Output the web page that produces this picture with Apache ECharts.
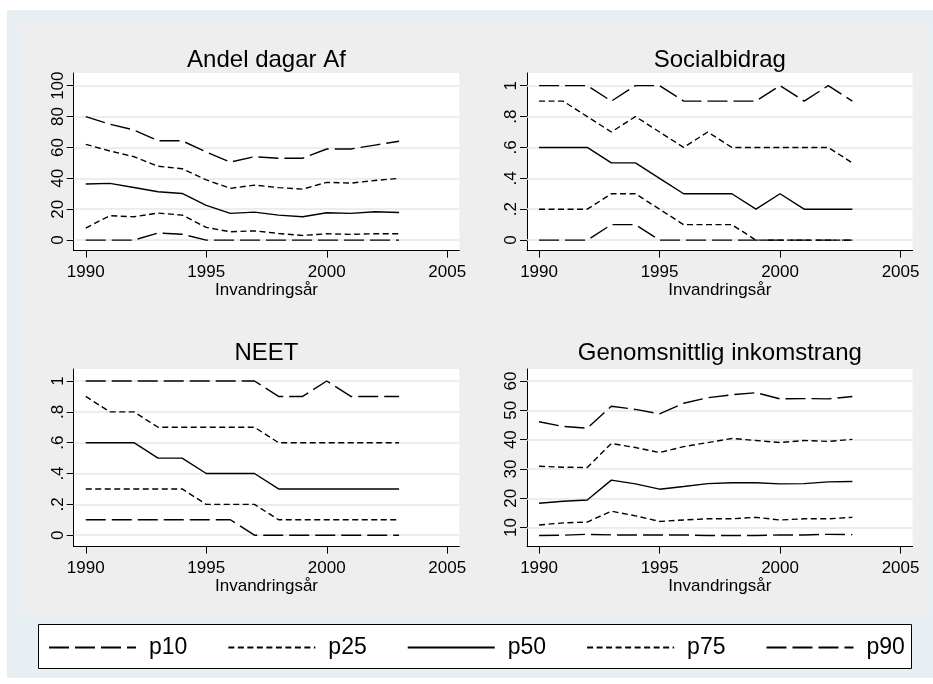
<!DOCTYPE html>
<html>
<head>
<meta charset="UTF-8"/>
<title></title>
<script src="https://cdn.jsdelivr.net/npm/echarts@6/dist/echarts.min.js" type="text/javascript"></script>
<style>
html, body { margin: 0; padding: 0; background: #fff; }
#main { width: 933px; height: 684px; }
</style>
</head>
<body>
<div id="main"></div>
<script type="text/javascript">
// years on the x axis
var years = [1990, 1991, 1992, 1993, 1994, 1995, 1996, 1997, 1998, 1999, 2000, 2001, 2002, 2003];
var xTicks = [1990, 1995, 2000, 2005];
var pNames = ['p10', 'p25', 'p50', 'p75', 'p90'];

// Andel dagar Af
var afP10 = [0, 0, 0, 4.6, 3.8, 0, 0, 0, 0, 0, 0, 0, 0, 0];
var afP25 = [7.8, 15.8, 15.1, 17.5, 16.2, 8.2, 5.4, 6, 4.3, 3, 4.1, 3.7, 4.1, 4.1];
var afP50 = [36.3, 36.7, 34.1, 31.3, 30.2, 22.5, 17.3, 18.1, 16.2, 15.1, 17.7, 17.3, 18.4, 17.9];
var afP75 = [62, 57.7, 54, 47.8, 46.2, 39, 33.5, 35.6, 34, 33, 37.4, 36.9, 38.6, 40];
var afP90 = [80, 75, 71.3, 64.3, 64.3, 57, 50.5, 54, 53, 53, 59, 59, 61.5, 64];
var afTicks = [0, 20, 40, 60, 80, 100];

// Socialbidrag
var sbP10 = [0, 0, 0, .1, .1, 0, 0, 0, 0, 0, 0, 0, 0, 0];
var sbP25 = [.2, .2, .2, .3, .3, .2, .1, .1, .1, 0, 0, 0, 0, 0];
var sbP50 = [.6, .6, .6, .5, .5, .4, .3, .3, .3, .2, .3, .2, .2, .2];
var sbP75 = [.9, .9, .8, .7, .8, .7, .6, .7, .6, .6, .6, .6, .6, .5];
var sbP90 = [1, 1, 1, .9, 1, 1, .9, .9, .9, .9, 1, .9, 1, .9];
var sbTicks = [0, .2, .4, .6, .8, 1];

// NEET
var neP10 = [.1, .1, .1, .1, .1, .1, .1, 0, 0, 0, 0, 0, 0, 0];
var neP25 = [.3, .3, .3, .3, .3, .2, .2, .2, .1, .1, .1, .1, .1, .1];
var neP50 = [.6, .6, .6, .5, .5, .4, .4, .4, .3, .3, .3, .3, .3, .3];
var neP75 = [.9, .8, .8, .7, .7, .7, .7, .7, .6, .6, .6, .6, .6, .6];
var neP90 = [1, 1, 1, 1, 1, 1, 1, 1, .9, .9, 1, .9, .9, .9];
var neTicks = [0, .2, .4, .6, .8, 1];

// Genomsnittlig inkomstrang
var inP10 = [7.3, 7.4, 7.7, 7.5, 7.5, 7.5, 7.5, 7.3, 7.3, 7.3, 7.5, 7.5, 7.7, 7.6];
var inP25 = [10.9, 11.6, 11.9, 15.6, 14, 12.1, 12.6, 13, 13, 13.5, 12.6, 13, 13, 13.5];
var inP50 = [18.3, 19, 19.4, 26.2, 24.9, 23.1, 24, 25, 25.3, 25.3, 24.9, 25, 25.6, 25.7];
var inP75 = [30.9, 30.6, 30.5, 38.7, 37.3, 35.6, 37.6, 39, 40.4, 39.7, 39, 39.7, 39.4, 40.1];
var inP90 = [46.1, 44.5, 43.9, 51.4, 50.3, 48.8, 52.4, 54.3, 55.3, 56, 53.9, 54, 53.9, 54.7];
var inTicks = [10, 20, 30, 40, 50, 60];

var font = '"Liberation Sans", Arial, sans-serif';
var longDash = [20, 6];
var shortDash = [6, 3.5];
var dashes = [longDash, shortDash, 'solid', shortDash, longDash];

var panels = [
    { title: 'Andel dagar Af', lines: [afP10, afP25, afP50, afP75, afP90], ticks: afTicks, min: -6.8, max: 108.2,
      left: 73.7, top: 73, titleTop: 48 },
    { title: 'Socialbidrag', lines: [sbP10, sbP25, sbP50, sbP75, sbP90], ticks: sbTicks, min: -0.068, max: 1.082,
      left: 527, top: 73, titleTop: 48 },
    { title: 'NEET', lines: [neP10, neP25, neP50, neP75, neP90], ticks: neTicks, min: -0.074, max: 1.078,
      left: 73.7, top: 369, titleTop: 341 },
    { title: 'Genomsnittlig inkomstrang', lines: [inP10, inP25, inP50, inP75, inP90], ticks: inTicks, min: 3.52, max: 64.09,
      left: 527, top: 369, titleTop: 341 }
];

function fmtTick(v) {
    if (v > 0 && v < 1) return String(v).replace('0.', '.');
    return String(v);
}

var grids = [], xAxes = [], yAxes = [], titles = [], series = [];
panels.forEach(function (p, i) {
    grids.push({ left: p.left, top: p.top, width: 385.6, height: 177.6, show: true,
        backgroundColor: '#fff', borderWidth: 0 });
    titles.push({ text: p.title, left: p.left + 192.8, top: p.titleTop, textAlign: 'center', padding: 0,
        textStyle: { fontSize: 24, fontWeight: 'normal', color: '#000', fontFamily: font } });
    xAxes.push({
        type: 'value', gridIndex: i, min: 1989.5, max: 2005.5,
        name: 'Invandringsår', nameLocation: 'middle', nameGap: 27,
        nameTextStyle: { fontSize: 17, color: '#000', fontFamily: font },
        axisLine: { show: true, onZero: false, lineStyle: { color: '#000', width: 1 } },
        axisTick: { show: true, length: 7, customValues: xTicks, lineStyle: { color: '#000' } },
        axisLabel: { customValues: xTicks, fontSize: 17, color: '#000', margin: 13, fontFamily: font,
            formatter: function (v) { return String(v); } },
        splitLine: { show: false }
    });
    yAxes.push({
        type: 'value', gridIndex: i, min: p.min, max: p.max,
        axisLine: { show: true, onZero: false, lineStyle: { color: '#000', width: 1 } },
        axisTick: { show: true, length: 7, customValues: p.ticks, lineStyle: { color: '#000' } },
        axisLabel: { customValues: p.ticks, rotate: 90, fontSize: 17, color: '#000', margin: 7,
            fontFamily: font, formatter: fmtTick },
        splitLine: { show: false }
    });
    p.lines.forEach(function (vals, k) {
        var s = {
            name: pNames[k], type: 'line', xAxisIndex: i, yAxisIndex: i,
            data: years.map(function (y, j) { return [y, vals[j]]; }),
            symbol: 'none', silent: true,
            lineStyle: { color: '#000', width: 1.4, type: dashes[k] },
            itemStyle: { color: '#000' }
        };
        if (k == 0) {
            // light horizontal grid lines at the tick values
            s.markLine = {
                silent: true, symbol: 'none', z: 1, animation: false,
                label: { show: false },
                lineStyle: { color: '#e4e9eb', width: 1.5, type: 'solid' },
                data: p.ticks.map(function (v) { return { yAxis: v }; })
            };
        }
        series.push(s);
    });
});

var myChart = echarts.init(document.getElementById('main'));
var option = {
    animation: false,
    graphic: [
        { type: 'rect', z: -10, silent: true, shape: { x: 7, y: 10, width: 926, height: 668 }, style: { fill: '#e8eff2' } },
        { type: 'rect', z: -9, silent: true, shape: { x: 22, y: 24, width: 908, height: 591 }, style: { fill: '#eeeeee' } },
        { type: 'rect', z: -8, silent: true, shape: { x: 38.5, y: 624.5, width: 873, height: 44 },
          style: { fill: '#fff', stroke: '#000', lineWidth: 1 } }
    ],
    title: titles,
    legend: {
        data: pNames, left: 48, top: 636, padding: 0, itemWidth: 87, itemHeight: 14, itemGap: 40,
        selectedMode: false,
        lineStyle: { width: 2 },
        // hide the marker dot, keep only the dashed line
        itemStyle: { color: 'rgba(0,0,0,0)', borderWidth: 0 },
        textStyle: { fontSize: 23, color: '#000', fontFamily: font, padding: [0, 0, 0, 8] }
    },
    grid: grids,
    xAxis: xAxes,
    yAxis: yAxes,
    series: series
};
myChart.setOption(option);
</script>
</body>
</html>
